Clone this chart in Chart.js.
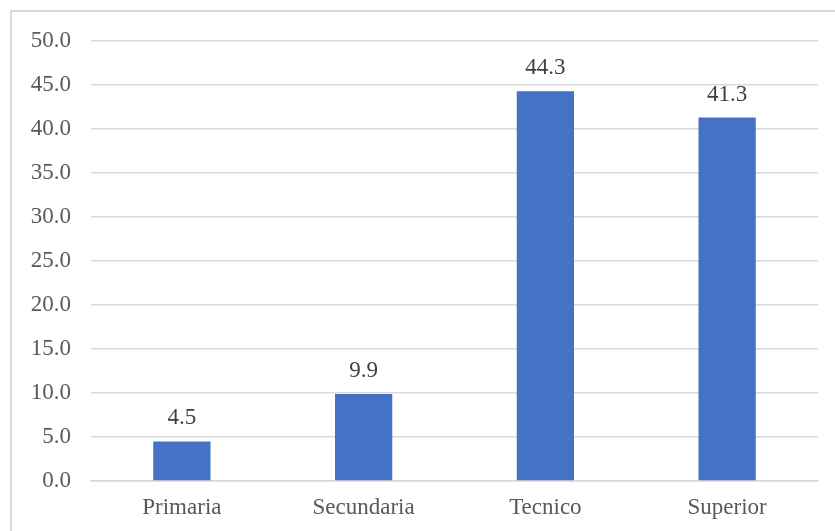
<!DOCTYPE html>
<html>
<head>
<meta charset="utf-8">
<script src="https://cdn.jsdelivr.net/npm/chart.js@4"></script>
<style>
    html, body { margin: 0; padding: 0; background: #fff; }
    .chart_container { position: relative; width: 835px; height: 531px; }
    .frame { position: absolute; left: 10px; top: 10px; right: 0; bottom: 0;
             border-left: 2px solid #d9d9d9; border-top: 2px solid #d9d9d9; }
    canvas { position: absolute; left: 0; top: 0; }
</style>
</head>
<body>
<div class="chart_container">
    <div class="frame"></div>
    <canvas id="nivel_chart" width="835" height="531"></canvas>
</div>
<script>
const categories = ['Primaria', 'Secundaria', 'Tecnico', 'Superior'];
const values = [4.5, 9.9, 44.3, 41.3];
const bar_color = '#4472C4';
const serif = '"Liberation Serif", "Times New Roman", serif';

// draws the value over each bar, one decimal
const valueLabels = {
    id: 'valueLabels',
    afterDatasetsDraw(chart) {
        let ctx = chart.ctx;
        let meta = chart.getDatasetMeta(0);
        ctx.save();
        ctx.font = '23px ' + serif;
        ctx.fillStyle = '#404040';
        ctx.textAlign = 'center';
        ctx.textBaseline = 'alphabetic';
        meta.data.forEach((bar, i) => {
            ctx.fillText(values[i].toFixed(1), bar.x, bar.y - 17);
        });
        ctx.restore();
    }
};

let ctx = document.getElementById('nivel_chart').getContext('2d');

const data = {
    labels: categories,
    datasets: [
        {
            data: values,
            backgroundColor: bar_color,
            borderWidth: 0,
            categoryPercentage: 1,
            barPercentage: 0.315
        }
    ]
};

const config = {
    type: 'bar',
    data: data,
    options: {
        responsive: false,
        animation: false,
        layout: { padding: { left: 11, top: 41, right: 17, bottom: 0 } },
        plugins: {
            legend: { display: false },
            tooltip: { enabled: false }
        },
        scales: {
            x: {
                grid: { display: false, drawTicks: false },
                border: { color: '#d9d9d9', width: 1.5 },
                ticks: {
                    color: '#595959',
                    padding: 13,
                    font: { family: serif, size: 23 }
                },
                afterFit: (scale) => { scale.height = 50; }
            },
            y: {
                min: 0,
                max: 50,
                grid: { color: '#d9d9d9', lineWidth: 1.5, drawTicks: false },
                border: { display: false },
                ticks: {
                    stepSize: 5,
                    color: '#595959',
                    padding: 20,
                    font: { family: serif, size: 23 },
                    callback: (v) => Number(v).toFixed(1)
                },
                afterFit: (scale) => { scale.width = 80; }
            }
        }
    },
    plugins: [valueLabels]
};

let created_chart = new Chart(ctx, config);
</script>
</body>
</html>
